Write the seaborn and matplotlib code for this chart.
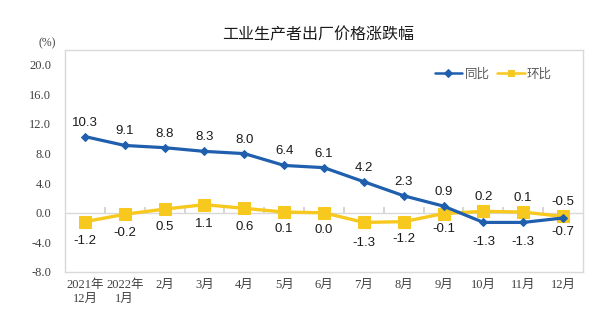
import matplotlib
matplotlib.use("Agg")
import matplotlib.pyplot as plt
import seaborn as sns
import pandas as pd
from matplotlib.ticker import FormatStrFormatter, FixedLocator

categories = ["2021年\n12月", "2022年\n1月", "2月", "3月", "4月", "5月", "6月",
              "7月", "8月", "9月", "10月", "11月", "12月"]
yoy = [10.3, 9.1, 8.8, 8.3, 8.0, 6.4, 6.1, 4.2, 2.3, 0.9, -1.3, -1.3, -0.7]
mom = [-1.2, -0.2, 0.5, 1.1, 0.6, 0.1, 0.0, -1.3, -1.2, -0.1, 0.2, 0.1, -0.5]
yticks = [-8.0, -4.0, 0.0, 4.0, 8.0, 12.0, 16.0, 20.0]

# label placement (pixels; + above, - below)
yoy_off = [14, 14, 14, 14, 14, 14, 14, 14, 14, 14, -20, -20, -14]
mom_off = [-19, -19, -18, -19, -19, -17, -17, -21, -17, -15, 14, 14, 14]

sns.set_theme(style="white")
plt.rcParams['font.family'] = ['Liberation Serif', 'Noto Sans CJK SC', 'DejaVu Sans']
plt.rcParams['axes.unicode_minus'] = False

BLUE = "#1F5FAD"
YELLOW = "#F7C81E"

df = pd.DataFrame({"x": list(range(len(categories))), "同比": yoy, "环比": mom})

fig = plt.figure(figsize=(6.15, 3.23), dpi=100)
ax = fig.add_axes([65/615, 1-272/323, (583-65)/615, (272-50)/323])

sns.lineplot(data=df, x="x", y="同比", ax=ax, color=BLUE, lw=2.3, marker="D",
             markersize=4, markeredgecolor=BLUE, label="同比", zorder=4)
sns.lineplot(data=df, x="x", y="环比", ax=ax, color=YELLOW, lw=2.4, marker="s",
             markersize=8.5, markeredgecolor=YELLOW, label="环比", zorder=3)

ax.set_xlim(-0.5, len(categories) - 0.5)
ax.set_ylim(-8, 22)
ax.set_yticks(yticks)
ax.yaxis.set_major_formatter(FormatStrFormatter('%.1f'))
ax.set_xticks(range(len(categories)))
ax.set_xticklabels(categories, fontsize=9, color="#404040",
                   family=['Liberation Serif', 'Noto Sans CJK SC'])
ax.set_xlabel("")
ax.set_ylabel("")
for lab in ax.get_yticklabels():
    lab.set_fontsize(9)
    lab.set_color("#404040")
ax.tick_params(axis='y', direction='in', length=3, color="#d0d0d0", pad=10)
ax.tick_params(axis='x', length=0, pad=5)
for s in ax.spines.values():
    s.set_color("#d9d9d9")
    s.set_linewidth(1.0)
ax.grid(False)

# zero axis line with category boundary ticks
zero_frac = (0 - (-8)) / (22 - (-8))
sec = ax.secondary_xaxis(zero_frac)
sec.xaxis.set_major_locator(FixedLocator([i + 0.5 for i in range(len(categories) - 1)]))
sec.set_xticklabels([])
sec.tick_params(direction='in', length=4, color="#d0d0d0")
sec.spines['bottom'].set_color("#d9d9d9")
sec.spines['bottom'].set_linewidth(1.0)
for k in ['top', 'left', 'right']:
    if k in sec.spines:
        sec.spines[k].set_visible(False)

lab_font = dict(fontsize=9.5, color="#1a1a1a", family=['Liberation Sans', 'DejaVu Sans'])
for i, (v, o) in enumerate(zip(yoy, yoy_off)):
    ax.annotate(f"{v:.1f}", (i, v), xytext=(0, o * 0.72), textcoords="offset points",
                ha="center", va="center", **lab_font)
for i, (v, o) in enumerate(zip(mom, mom_off)):
    ax.annotate(f"{v:.1f}", (i, v), xytext=(0, o * 0.72), textcoords="offset points",
                ha="center", va="center", **lab_font)

leg = ax.legend(loc="center right", bbox_to_anchor=(552/615, 1-74/323),
                bbox_transform=fig.transFigure, ncol=2, frameon=False,
                handlelength=2.2, handletextpad=0.2, columnspacing=0.6,
                borderpad=0, borderaxespad=0,
                prop={'family': ['Noto Sans CJK SC'], 'size': 9})
for t in leg.get_texts():
    t.set_color("#595959")
for h in leg.legend_handles:
    h.set_linewidth(1.8)
    h.set_markersize(4.5)

fig.text(318/615, 1-35/323, "工业生产者出厂价格涨跌幅", ha="center", va="center",
         fontsize=11.5, color="#1a1a1a", family=['Noto Sans CJK SC'])
fig.text(47/615, 1-43/323, "(%)", ha="center", va="center", fontsize=8.5,
         color="#404040", family=['Liberation Serif'])

fig.savefig("out.png", dpi=100, facecolor="white")
